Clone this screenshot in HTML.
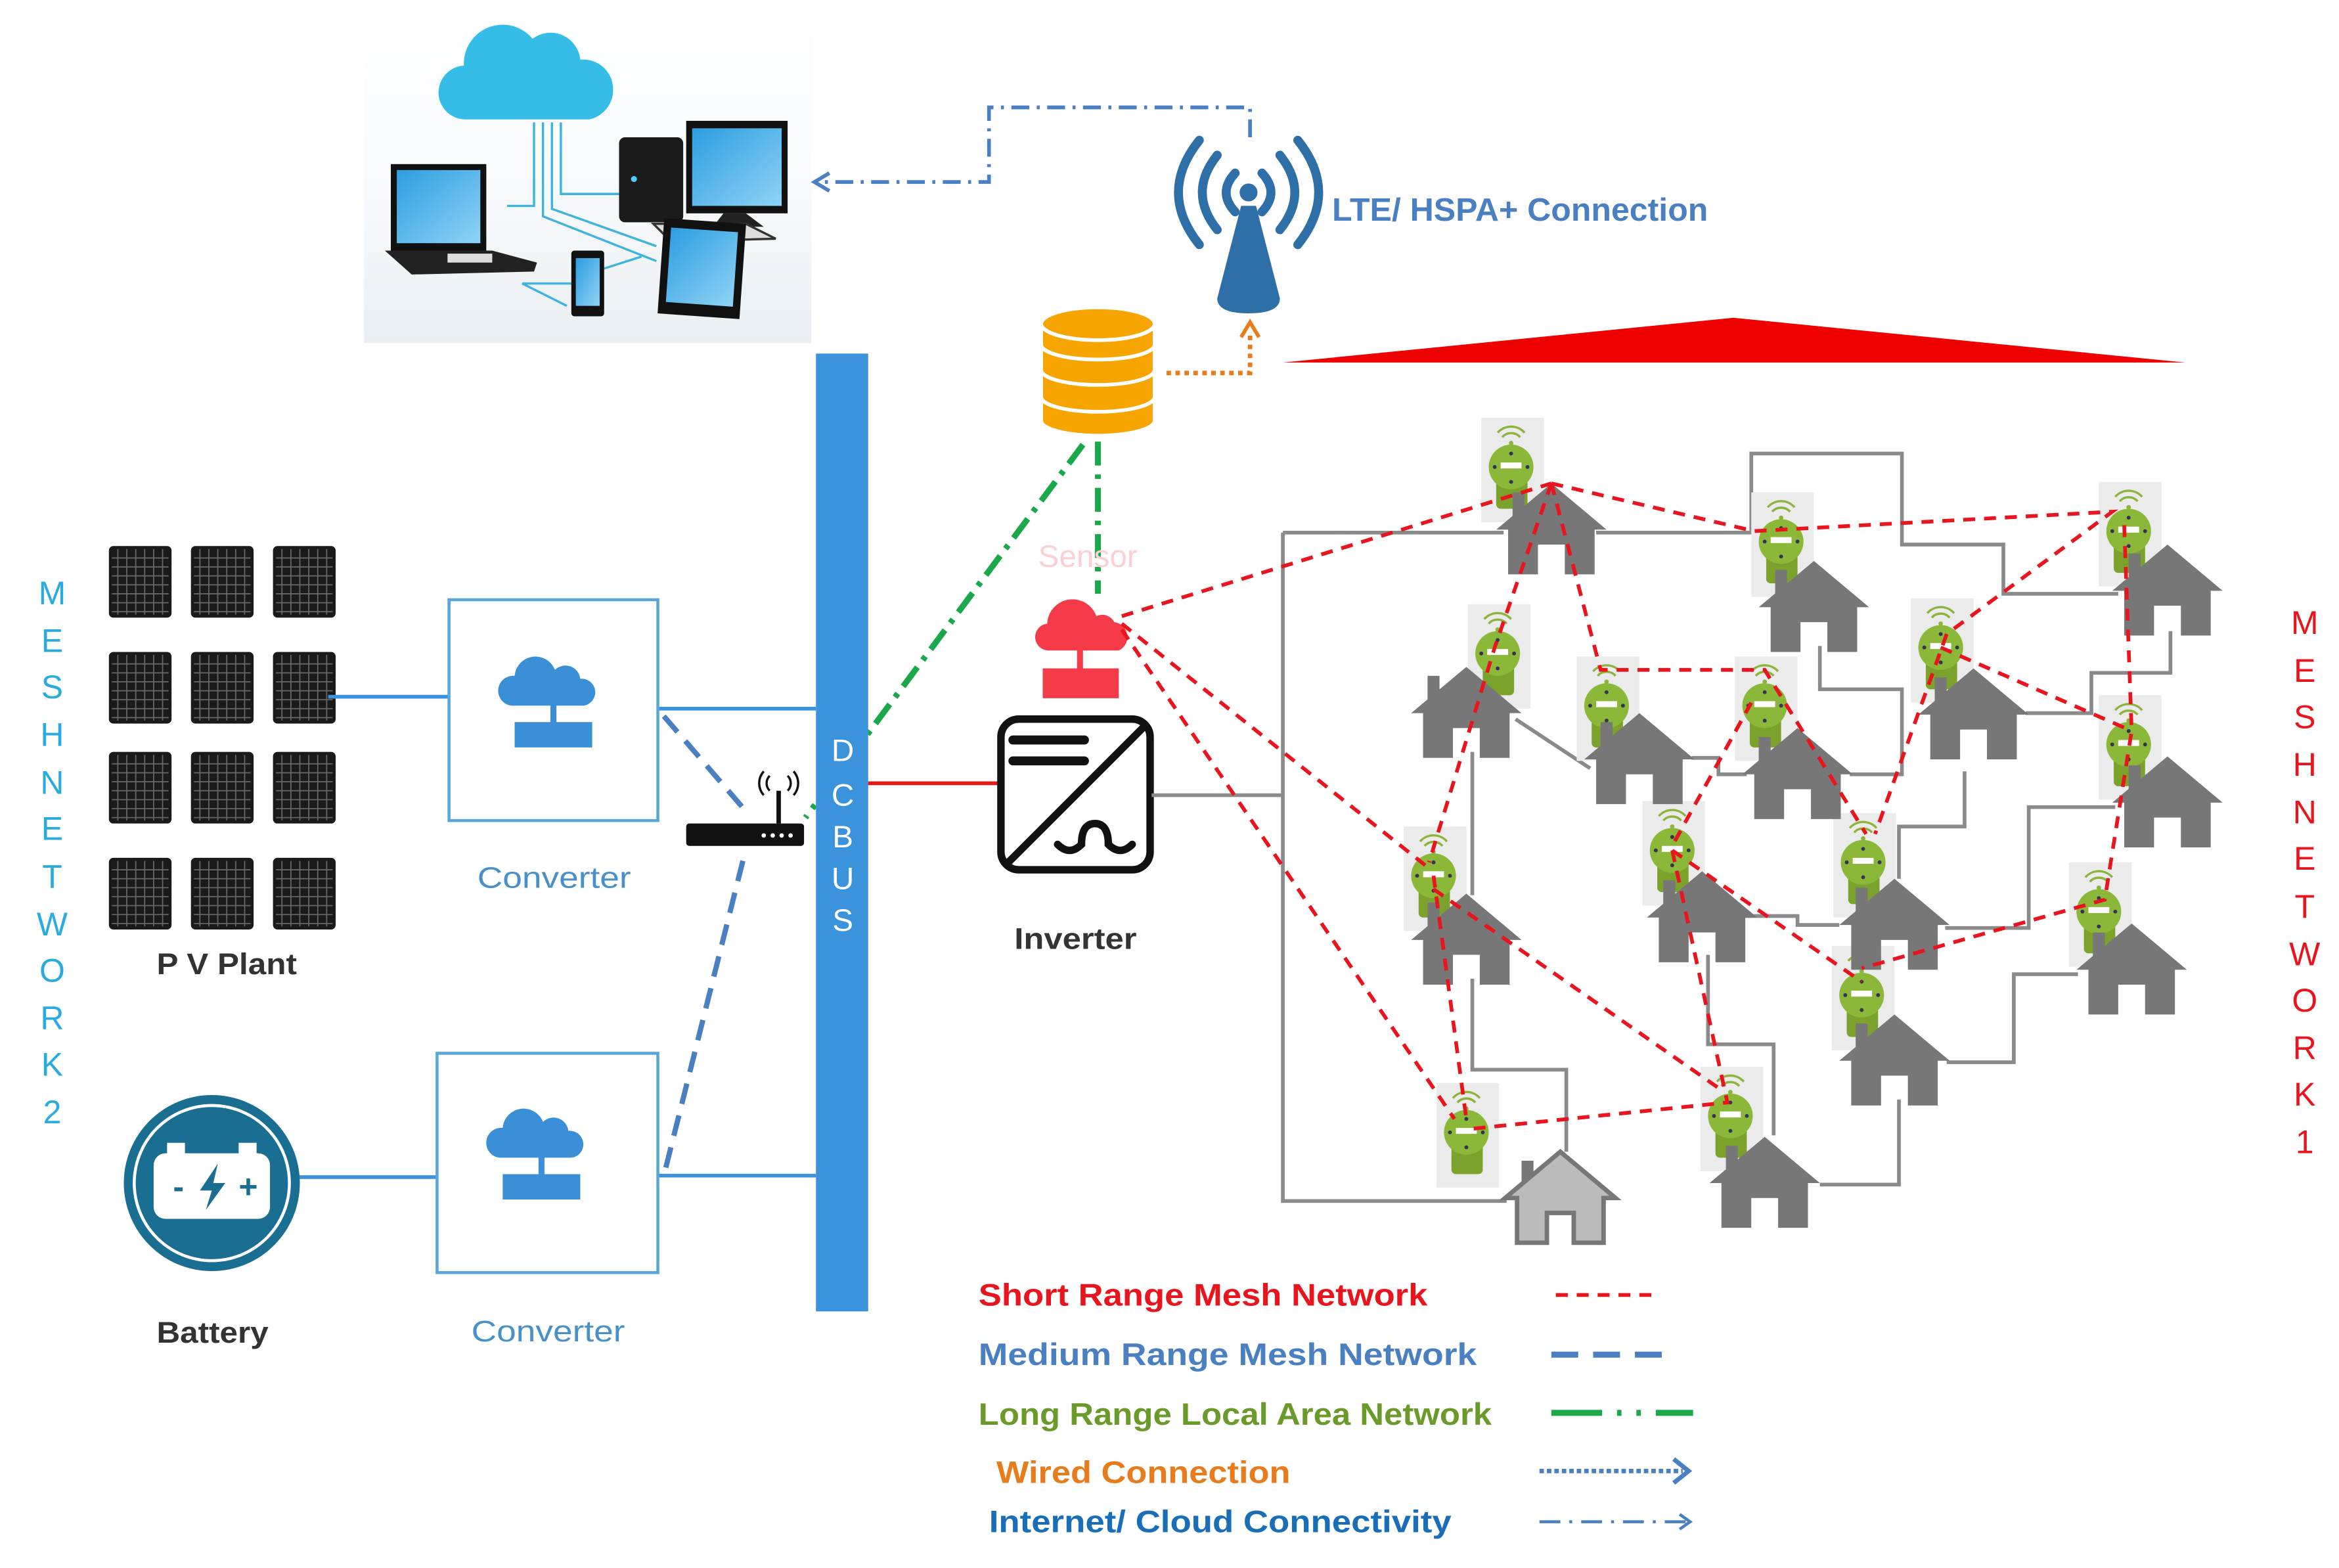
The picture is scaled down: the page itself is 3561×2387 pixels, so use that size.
<!DOCTYPE html>
<html><head><meta charset="utf-8"><style>
html,body{margin:0;padding:0;background:#fff;}
svg{display:block;}
text{font-family:"Liberation Sans",sans-serif;}
</style></head><body>
<svg width="3561" height="2387" viewBox="0 0 1568 1051" preserveAspectRatio="none" xmlns="http://www.w3.org/2000/svg">
<defs>
<linearGradient id="bg" x1="0" y1="0" x2="0" y2="1"><stop offset="0" stop-color="#fff"/><stop offset="0.6" stop-color="#f6f9fb"/><stop offset="1" stop-color="#e9eef2"/></linearGradient>
<linearGradient id="scr" x1="0" y1="0" x2="1" y2="1"><stop offset="0" stop-color="#2d9ee0"/><stop offset="1" stop-color="#8fd3f5"/></linearGradient>
<g id="house">
<rect x="-26" y="6" width="8" height="16" fill="#777"/>
<polygon points="0,0 37,31 29,31 29,61 9,61 9,41 -9,41 -9,61 -29,61 -29,31 -37,31" fill="#777"/>
</g>
<g id="meter">
<rect x="-20" y="-33" width="42" height="70" fill="#ebebeb"/>
<path d="M-6,-20 a8,8 0 0 1 12,0 M-9,-23 a12,12 0 0 1 18,0" fill="none" stroke="#8cb33a" stroke-width="1.5"/>
<circle cx="0" cy="-16" r="1.5" fill="#8cb33a"/>
<rect x="-10" y="6" width="21" height="22" rx="3" fill="#7aa22c"/>
<circle cx="0" cy="0" r="15" fill="#8cb83a"/>
<rect x="-7" y="-3" width="14" height="4" fill="#fff"/>
<circle cx="0" cy="-9" r="1.3" fill="#335"/><circle cx="-11" cy="0" r="1.3" fill="#335"/><circle cx="11" cy="0" r="1.3" fill="#335"/><circle cx="0" cy="10" r="1.3" fill="#335"/>
</g>
<g id="panel">
<rect x="0" y="0" width="42" height="48" rx="3" fill="#1a1a1a"/>
<path d="M6,2V46M12,2V46M18,2V46M24,2V46M30,2V46M36,2V46M2,8H40M2,14H40M2,20H40M2,26H40M2,32H40M2,38H40M2,44H40" stroke="#666" stroke-width="0.8"/>
</g>
<g id="conv">
<path d="M-28,10 a10,10 0 0 1 2,-20 a14,14 0 0 1 27,-4 a10,10 0 0 1 17,6 a9,9 0 0 1 2,18z" fill="#3a8fd6"/>
<rect x="-2" y="8" width="4" height="16" fill="#3a8fd6"/>
<rect x="-26" y="21" width="52" height="17" fill="#3a8fd6"/>
</g>
</defs>

<!-- computers image -->
<rect x="244" y="10" width="300" height="220" fill="url(#bg)"/>
<path d="M313,80 a18,18 0 0 1 -2,-36 a26,26 0 0 1 46,-18 a20,20 0 0 1 32,14 a20,20 0 0 1 22,20 a20,20 0 0 1 -16,20 z" fill="#35bde8"/>
<path d="M358,82 V138 H340 M364,82 V145 L440,175 M370,82 V140 L440,165 M376,82 V130 H418 M405,180 L430,172 M350,190 H384 M350,190 L380,205" fill="none" stroke="#3eb3e0" stroke-width="1.5"/>
<rect x="262" y="110" width="64" height="58" fill="#111"/><rect x="266" y="114" width="56" height="49" fill="url(#scr)"/>
<polygon points="258,168 330,168 360,176 358,182 276,184" fill="#222"/><rect x="300" y="170" width="30" height="6" fill="#ddd"/>
<rect x="415" y="92" width="43" height="57" rx="4" fill="#1b1b1b"/><circle cx="425" cy="120" r="2" fill="#5cf"/>
<rect x="460" y="81" width="68" height="62" fill="#111"/><rect x="464" y="86" width="60" height="52" fill="url(#scr)"/>
<polygon points="485,143 500,143 512,152 478,152" fill="#222"/>
<polygon points="438,150 500,150 520,160 450,162" fill="#ddd" stroke="#333" stroke-width="1.5"/>
<rect x="443" y="148" width="55" height="64" fill="#111" transform="rotate(4 470 180)"/><rect x="448" y="154" width="45" height="50" fill="url(#scr)" transform="rotate(4 470 180)"/>
<rect x="383" y="168" width="22" height="44" rx="2" fill="#111"/><rect x="386" y="173" width="16" height="32" fill="url(#scr)"/>

<!-- cloud dash-dot to computers -->
<path d="M838,92 V72 H663 V122 H552" fill="none" stroke="#4a7fc1" stroke-width="2.5" stroke-dasharray="12,5,2,5"/>
<path d="M556,116 L546,122 L556,128" fill="none" stroke="#4a7fc1" stroke-width="2.5"/>

<!-- antenna -->
<g fill="none" stroke="#2e6fa8" stroke-width="6" stroke-linecap="round">
<path d="M828,116 Q816,129 828,142"/><path d="M846,116 Q858,129 846,142"/>
<path d="M816,104 Q796,129 816,154"/><path d="M858,104 Q878,129 858,154"/>
<path d="M804,94 Q776,129 804,164"/><path d="M870,94 Q898,129 870,164"/>
</g>
<circle cx="837" cy="129" r="6" fill="#2e6fa8"/>
<path d="M832,138 L842,138 L858,200 Q858,210 837,210 Q816,210 816,200 Z" fill="#2e6fa8"/>
<text x="893" y="148" font-size="21.5" fill="#4a7fc1" font-weight="600" textLength="252" lengthAdjust="spacingAndGlyphs">LTE/ HSPA+ Connection</text>

<!-- database -->
<g fill="#f6a500" stroke="#fff" stroke-width="2.5">
<path d="M698,270 v12 a38,10 0 0 0 76,0 v-12"/>
<path d="M698,252 v14 a38,10 0 0 0 76,0 v-14"/>
<path d="M698,234 v14 a38,10 0 0 0 76,0 v-14"/>
<path d="M698,217 v14 a38,10 0 0 0 76,0 v-14"/>
<ellipse cx="736" cy="217" rx="38" ry="11"/>
</g>
<path d="M782,250 H838 V222" fill="none" stroke="#e87b1c" stroke-width="3" stroke-dasharray="3,3"/>
<path d="M832,226 L838,216 L844,226" fill="none" stroke="#e87b1c" stroke-width="2.5"/>

<!-- red triangle -->
<polygon points="860,243 1162,213 1465,243" fill="#e00"/>

<!-- green links -->
<path d="M736,296 V398" stroke="#1aa84a" stroke-width="4" stroke-dasharray="16,6,3,6"/>
<path d="M726,298 L540,548" stroke="#1aa84a" stroke-width="4" stroke-dasharray="16,6,3,6"/>
<text x="696" y="380" font-size="21" fill="#fbd0d4">Sensor</text>

<!-- sensor icon -->
<path d="M704,436 a9,9 0 0 1 -2,-18 a17,17 0 0 1 33,-5 a9,9 0 0 1 12,4 a10,10 0 0 1 3,19 z" fill="#f53a4a"/>
<rect x="722" y="434" width="4" height="16" fill="#f53a4a"/>
<rect x="699" y="448" width="51" height="20" fill="#f53a4a"/>

<!-- DC bus -->
<rect x="547" y="237" width="35" height="642" fill="#3a93db"/>
<g font-size="21" fill="#fff" text-anchor="middle">
<text x="565" y="510">D</text><text x="565" y="540">C</text><text x="565" y="568">B</text><text x="565" y="596">U</text><text x="565" y="624">S</text>
</g>
<line x1="582" y1="525" x2="670" y2="525" stroke="#e01b1b" stroke-width="2.5"/>

<!-- inverter -->
<rect x="671" y="482" width="100" height="101" rx="12" fill="#fff" stroke="#111" stroke-width="5"/>
<line x1="674" y1="580" x2="768" y2="486" stroke="#111" stroke-width="5"/>
<path d="M679,496 H727 M679,510 H727" stroke="#111" stroke-width="6" stroke-linecap="round"/>
<path d="M709,566 q8,8 16,0 q0,-14 9,-14 q9,0 9,14 q8,8 16,0" fill="none" stroke="#111" stroke-width="5" stroke-linecap="round"/>
<text x="680" y="636" font-size="20" fill="#333" font-weight="600" textLength="82" lengthAdjust="spacingAndGlyphs">Inverter</text>

<!-- router -->
<rect x="460" y="552" width="79" height="15" rx="2" fill="#111"/>
<g fill="#fff"><circle cx="512" cy="560" r="1.5"/><circle cx="518" cy="560" r="1.5"/><circle cx="524" cy="560" r="1.5"/><circle cx="530" cy="560" r="1.5"/></g>
<line x1="522" y1="552" x2="522" y2="530" stroke="#111" stroke-width="3"/>
<path d="M516,530 a7,7 0 0 1 0,-10 M528,530 a7,7 0 0 0 0,-10 M512,533 a12,12 0 0 1 0,-16 M532,533 a12,12 0 0 0 0,-16" fill="none" stroke="#111" stroke-width="1.5"/>
<path d="M445,480 L502,546 M498,577 L446,784" stroke="#4a7fc1" stroke-width="3.5" stroke-dasharray="14,8"/>

<!-- PV -->
<g>
<use href="#panel" x="73" y="366"/><use href="#panel" x="128" y="366"/><use href="#panel" x="183" y="366"/>
<use href="#panel" x="73" y="437"/><use href="#panel" x="128" y="437"/><use href="#panel" x="183" y="437"/>
<use href="#panel" x="73" y="504"/><use href="#panel" x="128" y="504"/><use href="#panel" x="183" y="504"/>
<use href="#panel" x="73" y="575"/><use href="#panel" x="128" y="575"/><use href="#panel" x="183" y="575"/>
</g>
<text x="105" y="653" font-size="20" fill="#333" font-weight="600" textLength="94" lengthAdjust="spacingAndGlyphs">P V Plant</text>
<line x1="220" y1="467" x2="301" y2="467" stroke="#3a93db" stroke-width="2.5"/>
<line x1="441" y1="475" x2="547" y2="475" stroke="#3a93db" stroke-width="2.5"/>
<rect x="301" y="402" width="140" height="148" fill="#fff" stroke="#58a6dc" stroke-width="2"/>
<use href="#conv" x="371" y="463"/>
<text x="320" y="595" font-size="20" fill="#4a90c8" textLength="103" lengthAdjust="spacingAndGlyphs">Converter</text>

<!-- battery -->
<line x1="200" y1="789" x2="293" y2="789" stroke="#3a93db" stroke-width="2.5"/>
<line x1="441" y1="788" x2="547" y2="788" stroke="#3a93db" stroke-width="2.5"/>
<rect x="293" y="706" width="148" height="147" fill="#fff" stroke="#58a6dc" stroke-width="2"/>
<use href="#conv" x="363" y="766"/>
<text x="316" y="899" font-size="20" fill="#4a90c8" textLength="103" lengthAdjust="spacingAndGlyphs">Converter</text>
<circle cx="142" cy="793" r="59" fill="#1a6e92"/>
<circle cx="142" cy="793" r="52" fill="#1a6e92" stroke="#fff" stroke-width="2"/>
<rect x="103" y="773" width="78" height="44" rx="8" fill="#fff"/>
<rect x="112" y="766" width="12" height="8" fill="#fff"/><rect x="160" y="766" width="12" height="8" fill="#fff"/>
<text x="116" y="803" font-size="22" fill="#1a6e92" font-weight="bold">-</text>
<text x="160" y="803" font-size="22" fill="#1a6e92" font-weight="bold">+</text>
<polygon points="146,780 134,798 142,798 138,811 151,793 143,793" fill="#1a6e92"/>
<text x="105" y="900" font-size="20" fill="#333" font-weight="600" textLength="75" lengthAdjust="spacingAndGlyphs">Battery</text>

<!-- vertical labels -->
<g font-size="22" fill="#29abe2" text-anchor="middle">
<text x="35" y="405">M</text><text x="35" y="437">E</text><text x="35" y="468">S</text><text x="35" y="500">H</text><text x="35" y="532">N</text><text x="35" y="563">E</text><text x="35" y="595">T</text><text x="35" y="627">W</text><text x="35" y="658">O</text><text x="35" y="690">R</text><text x="35" y="721">K</text><text x="35" y="753">2</text>
</g>
<g font-size="22" fill="#e8141e" text-anchor="middle">
<text x="1545" y="425">M</text><text x="1545" y="457">E</text><text x="1545" y="488">S</text><text x="1545" y="520">H</text><text x="1545" y="552">N</text><text x="1545" y="583">E</text><text x="1545" y="615">T</text><text x="1545" y="647">W</text><text x="1545" y="678">O</text><text x="1545" y="710">R</text><text x="1545" y="741">K</text><text x="1545" y="773">1</text>
</g>

<!-- gray wiring -->
<g fill="none" stroke="#8a8a8a" stroke-width="2.5">
<path d="M772,533 H860"/>
<path d="M860,357 V805 H1010"/>
<path d="M860,357 H1008"/>
<path d="M1070,357 H1174 V304 H1275 V365 H1343 V398 H1420"/>
<path d="M1220,433 V462 H1275 V519 H1240"/>
<path d="M1455,423 V451 H1402 V478 H1358"/>
<path d="M1016,482 L1066,515"/>
<path d="M1134,508 H1152 V519 H1171"/>
<path d="M987,504 V600"/>
<path d="M1317,517 V554 H1273 V589"/>
<path d="M1304,622 H1360 V541 H1418"/>
<path d="M1167,614 H1205 V620 H1233"/>
<path d="M987,656 V717 H1050 V772"/>
<path d="M1145,640 V700 H1189 V761"/>
<path d="M1305,712 H1350 V653 H1393"/>
<path d="M1273,737 V794 H1220"/>
</g>

<!-- meters -->
<use href="#meter" x="1013" y="313"/><use href="#meter" x="1194" y="363"/><use href="#meter" x="1427" y="356"/>
<use href="#meter" x="1004" y="438"/><use href="#meter" x="1077" y="473"/><use href="#meter" x="1183" y="473"/>
<use href="#meter" x="1301" y="434"/><use href="#meter" x="1427" y="499"/><use href="#meter" x="961" y="587"/>
<use href="#meter" x="1121" y="570"/><use href="#meter" x="1249" y="578"/><use href="#meter" x="1407" y="611"/>
<use href="#meter" x="1248" y="667"/><use href="#meter" x="1160" y="748"/><use href="#meter" x="983" y="759"/>

<!-- houses -->
<use href="#house" x="1040" y="324"/><use href="#house" x="1216" y="376"/><use href="#house" x="1453" y="365"/>
<use href="#house" x="983" y="447"/><use href="#house" x="1099" y="478"/><use href="#house" x="1205" y="488"/>
<use href="#house" x="1323" y="448"/><use href="#house" x="1453" y="507"/><use href="#house" x="983" y="599"/>
<use href="#house" x="1141" y="584"/><use href="#house" x="1270" y="589"/><use href="#house" x="1429" y="619"/>
<use href="#house" x="1270" y="680"/><use href="#house" x="1183" y="762"/>
<g transform="translate(1046,772)">
<rect x="-26" y="6" width="8" height="16" fill="#777"/>
<polygon points="0,0 37,31 29,31 29,61 9,61 9,41 -9,41 -9,61 -29,61 -29,31 -37,31" fill="#bbb" stroke="#777" stroke-width="3"/>
</g>

<!-- red mesh -->
<g stroke="#e8141e" stroke-width="2.5" stroke-dasharray="8,6" fill="none">
<path d="M752,413 L1040,324"/>
<path d="M752,418 L958,582"/>
<path d="M752,422 L975,750"/>
<path d="M1040,324 L1176,356 L1416,343 L1305,425"/>
<path d="M1040,324 L1002,434 L958,578"/>
<path d="M1040,324 L1073,449 L1183,449 L1251,559"/>
<path d="M1424,352 L1429,490 L1411,603 L1248,649"/>
<path d="M1305,425 L1257,559"/>
<path d="M1174,471 L1121,567"/>
<path d="M1301,434 L1427,489"/>
<path d="M1121,570 L1248,658"/>
<path d="M1121,570 L1158,739 L983,757"/>
<path d="M961,587 L983,750"/>
<path d="M961,596 L1156,732"/>
</g>

<!-- legend -->
<g font-size="21" font-weight="600" lengthAdjust="spacingAndGlyphs">
<text x="656" y="875" fill="#e8141e" textLength="301" lengthAdjust="spacingAndGlyphs">Short Range Mesh Network</text>
<text x="656" y="915" fill="#4a7fc1" textLength="334" lengthAdjust="spacingAndGlyphs">Medium Range Mesh Network</text>
<text x="656" y="955" fill="#6a9a2a" textLength="344" lengthAdjust="spacingAndGlyphs">Long Range Local Area Network</text>
<text x="668" y="994" fill="#e87b1c" textLength="197" lengthAdjust="spacingAndGlyphs">Wired Connection</text>
<text x="663" y="1027" fill="#1a6eb8" textLength="310" lengthAdjust="spacingAndGlyphs">Internet/ Cloud Connectivity</text>
</g>
<line x1="1043" y1="868" x2="1113" y2="868" stroke="#e8141e" stroke-width="2.5" stroke-dasharray="8,6"/>
<line x1="1040" y1="908" x2="1120" y2="908" stroke="#4a7fc1" stroke-width="4" stroke-dasharray="18,10"/>
<line x1="1040" y1="947" x2="1135" y2="947" stroke="#1aa84a" stroke-width="4" stroke-dasharray="34,10,3,10,3,10"/>
<line x1="1032" y1="986" x2="1128" y2="986" stroke="#4a7fc1" stroke-width="3" stroke-dasharray="3,2"/>
<path d="M1122,978 L1132,986 L1122,994" fill="none" stroke="#4a7fc1" stroke-width="3"/>
<line x1="1032" y1="1020" x2="1130" y2="1020" stroke="#4a7fc1" stroke-width="2" stroke-dasharray="14,6,2,6"/>
<path d="M1126,1015 L1133,1020 L1126,1025" fill="none" stroke="#4a7fc1" stroke-width="2"/>
</svg>
</body></html>
